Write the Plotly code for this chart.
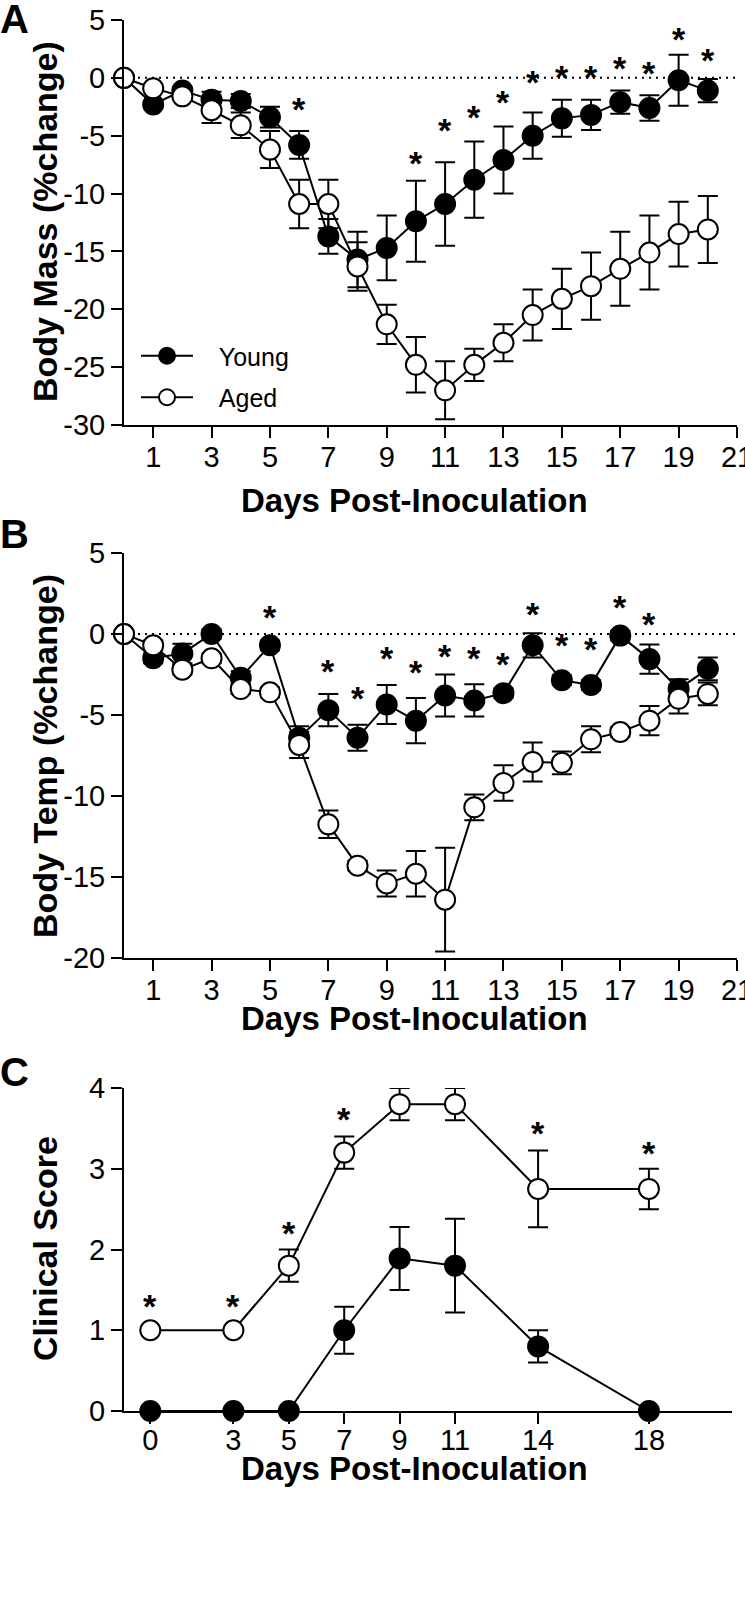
import plotly.graph_objects as go

# ---------------- data ----------------
days_a = list(range(0, 21))
young_mass = [0, -2.3, -1.1, -1.9, -2.0, -3.4, -5.8, -13.7, -15.7, -14.7, -12.4,
              -10.9, -8.8, -7.1, -5.0, -3.5, -3.2, -2.1, -2.6, -0.2, -1.1]
young_mass_err = [0, 0.3, 0.3, 0.7, 0.6, 0.9, 1.2, 1.5, 2.4, 2.8, 3.5,
                  3.6, 3.3, 2.9, 2.0, 1.6, 1.3, 1.0, 1.1, 2.2, 1.0]
aged_mass = [0, -0.9, -1.6, -2.8, -4.1, -6.2, -10.9, -10.9, -16.3, -21.3, -24.8,
             -27.0, -24.8, -22.9, -20.5, -19.1, -18.0, -16.5, -15.1, -13.5, -13.1]
aged_mass_err = [0, 0.3, 0.3, 1.1, 1.1, 1.6, 2.1, 2.1, 2.1, 1.7, 2.4,
                 2.5, 1.4, 1.6, 2.2, 2.6, 2.9, 3.2, 3.2, 2.8, 2.9]
star_mass_days = [6, 10, 11, 12, 13, 14, 15, 16, 17, 18, 19, 20]
star_mass_y = [-2.2, -6.8, -4.0, -2.85, -1.6, 0.2, 0.55, 0.55, 1.4, 0.97, 3.85, 2.1]

days_b = list(range(0, 21))
young_temp = [0, -1.5, -1.2, 0.0, -2.7, -0.7, -6.4, -4.7, -6.4, -4.35, -5.35,
              -3.8, -4.1, -3.65, -0.7, -2.85, -3.15, -0.1, -1.55, -3.4, -2.15]
young_temp_err = [0, 0.3, 0.6, 0.3, 0.4, 0.3, 0.7, 1.0, 0.8, 1.2, 1.4,
                  1.3, 1.0, 0.3, 0.75, 0.3, 0.3, 0.3, 0.9, 0.6, 0.7]
aged_temp = [0, -0.7, -2.2, -1.5, -3.4, -3.6, -6.85, -11.75, -14.3, -15.4, -14.8,
             -16.4, -10.7, -9.2, -7.9, -7.95, -6.5, -6.05, -5.35, -4.0, -3.7]
aged_temp_err = [0, 0.3, 0.3, 0.3, 0.3, 0.3, 0.8, 0.85, 0.3, 0.8, 1.4,
                 3.2, 0.8, 1.1, 1.2, 0.7, 0.8, 0.3, 0.9, 0.9, 0.7]
star_temp_days = [5, 7, 8, 9, 10, 11, 12, 13, 14, 15, 16, 17, 18]
star_temp_y = [1.45, -1.9, -3.55, -1.1, -1.97, -1.0, -1.1, -1.5, 1.6, -0.33, -0.57, 2.04, 0.97]

days_c = [0, 3, 5, 7, 9, 11, 14, 18]
young_score = [0, 0, 0, 1.0, 1.89, 1.8, 0.8, 0]
young_score_err = [0, 0, 0, 0.29, 0.39, 0.58, 0.2, 0]
aged_score = [1.0, 1.0, 1.8, 3.2, 3.8, 3.8, 2.75, 2.75]
aged_score_err = [0, 0, 0.2, 0.2, 0.2, 0.2, 0.475, 0.25]
star_score_y = [1.38, 1.38, 2.28, 3.69, 4.28, 4.31, 3.52, 3.27]

ticks_ab = [1, 3, 5, 7, 9, 11, 13, 15, 17, 19, 21]
ticks_mass = [5, 0, -5, -10, -15, -20, -25, -30]
ticks_temp = [5, 0, -5, -10, -15, -20]
ticks_score = [0, 1, 2, 3, 4]

x_title = "Days Post-Inoculation"
group_names = ["Young", "Aged"]

# ---------------- style ----------------
W, H = 745, 1615
FONT = "Liberation Sans, Arial, Helvetica, sans-serif"
TICKFONT = dict(family=FONT, size=29, color="black")
LW = 2


def py(px):
    return 1 - px / H


def series(x, y, err, filled, xa, ya, name, show):
    return go.Scatter(
        x=x, y=y, mode="lines+markers", name="\u00a0\u00a0\u00a0" + name, showlegend=show,
        legendgroup=name,
        xaxis=xa, yaxis=ya, cliponaxis=False,
        line=dict(color="black", width=LW),
        marker=dict(size=20, color="black" if filled else "white",
                    line=dict(color="black", width=LW)),
        error_y=dict(type="data", array=err, visible=True, thickness=LW,
                     width=10, color="black"),
    )


fig = go.Figure()
fig.add_trace(series(days_a, young_mass, young_mass_err, True, "x", "y", group_names[0], True))
fig.add_trace(series(days_a, aged_mass, aged_mass_err, False, "x", "y", group_names[1], True))
fig.add_trace(series(days_b, young_temp, young_temp_err, True, "x2", "y2", group_names[0], False))
fig.add_trace(series(days_b, aged_temp, aged_temp_err, False, "x2", "y2", group_names[1], False))
fig.add_trace(series(days_c, young_score, young_score_err, True, "x3", "y3", group_names[0], False))
fig.add_trace(series(days_c, aged_score, aged_score_err, False, "x3", "y3", group_names[1], False))


def axis(domain, rng, ticks, **kw):
    d = dict(domain=domain, range=rng, tickvals=ticks, ticktext=[str(t) for t in ticks],
             ticks="outside", ticklen=11,
             tickwidth=LW, tickcolor="black", showline=True, linewidth=LW,
             linecolor="black", showgrid=False, zeroline=False, tickfont=TICKFONT,
             fixedrange=True, automargin=False, ticklabeloverflow="allow")
    d.update(kw)
    return d


xdom = [124 / W, 737 / W]
fig.update_layout(
    width=W, height=H, autosize=False,
    margin=dict(l=0, r=0, t=0, b=0, pad=0, autoexpand=False),
    paper_bgcolor="white", plot_bgcolor="white",
    font=dict(family=FONT, color="black"),
    xaxis=axis(xdom, [0, 21], ticks_ab, anchor="y", ticklabelstandoff=-6),
    yaxis=axis([py(425), py(20)], [-30, 5], ticks_mass, anchor="x"),
    xaxis2=axis(xdom, [0, 21], ticks_ab, anchor="y2", ticklabelstandoff=-6),
    yaxis2=axis([py(958), py(553)], [-20, 5], ticks_temp, anchor="x2"),
    xaxis3=axis([124 / W, 732 / W], [-0.95, 21], days_c, anchor="y3", ticklabelstandoff=-9),
    yaxis3=axis([py(1411), py(1088)], [0, 4], ticks_score, anchor="x3"),
    showlegend=True,
    legend=dict(x=136 / W, y=py(333), xanchor="left", yanchor="top",
                font=dict(family=FONT, size=25, color="black"),
                bgcolor="rgba(0,0,0,0)", itemwidth=52, tracegroupgap=6,
                traceorder="grouped", itemclick=False, itemdoubleclick=False),
)

# dotted zero lines
for xr, yr in [("x", "y"), ("x2", "y2")]:
    fig.add_shape(type="line", xref=xr, yref=yr, x0=0, x1=21, y0=0, y1=0,
                  line=dict(color="black", width=2, dash="2px,5px"), layer="below")

ann = []
# asterisks
for days, ys, xr, yr in [(star_mass_days, star_mass_y, "x", "y"),
                         (star_temp_days, star_temp_y, "x2", "y2"),
                         (days_c, star_score_y, "x3", "y3")]:
    for d, v in zip(days, ys):
        ann.append(dict(x=d, y=v, xref=xr, yref=yr, text="*", showarrow=False,
                        xanchor="center", yanchor="middle", yshift=-6,
                        font=dict(family=FONT, size=34, weight="bold", color="black")))

XTFONT = dict(family=FONT, size=33, weight="bold", color="black")
YTFONT = dict(family=FONT, size=34, weight="bold", color="black")
# x titles
for yc in [500, 1018, 1468]:
    ann.append(dict(x=414 / W, y=py(yc), xref="paper", yref="paper", text=x_title,
                    showarrow=False, xanchor="center", yanchor="middle", font=XTFONT))
# y titles
for txt, yc in [("Body Mass (%change)", 222), ("Body Temp (%change)", 756), ("Clinical Score", 1249)]:
    ann.append(dict(x=45 / W, y=py(yc), xref="paper", yref="paper", text=txt,
                    showarrow=False, textangle=-90, xanchor="center", yanchor="middle",
                    font=YTFONT))
# panel letters
for txt, yc in [("A", 19), ("B", 534), ("C", 1072)]:
    ann.append(dict(x=15 / W, y=py(yc), xref="paper", yref="paper", text=txt,
                    showarrow=False, xanchor="center", yanchor="middle",
                    font=dict(family=FONT, size=40, weight="bold", color="black")))
fig.update_layout(annotations=ann)

fig.write_html("out.html", config={"displayModeBar": False},
               post_script="document.body.style.margin='0';")
